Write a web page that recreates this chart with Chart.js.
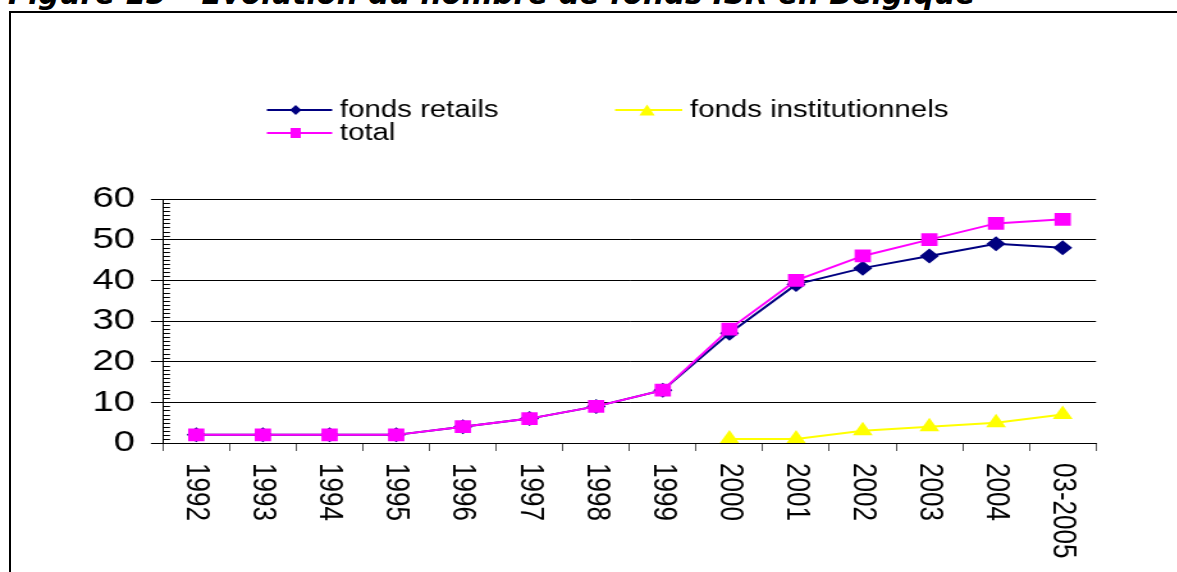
<!DOCTYPE html>
<html>
<head>
  <meta charset="utf-8">
  <title>Evolution du nombre de fonds ISR en Belgique</title>
  <script src="https://cdn.jsdelivr.net/npm/chart.js@4.4.0/dist/chart.umd.min.js"></script>
  <style>
    body { margin: 0; background: #fff; overflow: hidden; width: 1177px; height: 572px; position: relative; }
    #title { position: absolute; left: 8px; top: -18px; font: italic bold 29.5px "DejaVu Sans"; line-height: 24px; white-space: nowrap; color: #000; }
    #frame { position: absolute; left: 9px; top: 11px; width: 1300px; height: 700px; border-top: 2px solid #000; border-left: 2px solid #000; }
    /* the original picture is stretched sideways, so is the canvas */
    #myChart { position: absolute; left: 0; top: 0; transform: scaleX(1.28); transform-origin: 0 0; }
  </style>
</head>
<body>
  <div id="title">Figure 15 – Evolution du nombre de fonds ISR en Belgique</div>
  <div id="frame"></div>
  <canvas id="myChart" width="920" height="572"></canvas>
  <script type="text/javascript">
    var years = ["1992", "1993", "1994", "1995", "1996", "1997", "1998", "1999",
                 "2000", "2001", "2002", "2003", "2004", "03-2005"];
    var retails = [2, 2, 2, 2, 4, 6, 9, 13, 27, 39, 43, 46, 49, 48];
    var institutionnels = [null, null, null, null, null, null, null, null, 1, 1, 3, 4, 5, 7];
    var total = [2, 2, 2, 2, 4, 6, 9, 13, 28, 40, 46, 50, 54, 55];
    var yMin = 0, yMax = 60, yStep = 10;

    var NAVY = "#000080", YELLOW = "#ffff00", MAGENTA = "#ff00ff";

    Chart.defaults.font.family = "'Liberation Sans', Arial, sans-serif";
    Chart.defaults.color = "#000";

    function marker(ctx, style, x, y, w, h, color) {
      ctx.fillStyle = color;
      ctx.beginPath();
      if (style === "rectRot") {
        ctx.moveTo(x, y - h); ctx.lineTo(x + w, y); ctx.lineTo(x, y + h); ctx.lineTo(x - w, y);
      } else if (style === "rect") {
        ctx.rect(x - w, y - h, 2 * w, 2 * h);
      } else {
        ctx.moveTo(x, y - h); ctx.lineTo(x + w, y + h); ctx.lineTo(x - w, y + h);
      }
      ctx.closePath();
      ctx.fill();
    }

    // legend laid out like the excel one: two columns, "total" on a second row
    var legendPlugin = {
      id: "xlLegend",
      afterDraw: function(chart) {
        var ctx = chart.ctx;
        var items = [
          { text: "fonds retails", color: NAVY, style: "rectRot", x0: 208.5, x1: 259.5, mx: 231, y: 110, w: 4.5, h: 5 },
          { text: "fonds institutionnels", color: YELLOW, style: "triangle", x0: 480.5, x1: 533, mx: 505.5, y: 110, w: 6, h: 5.5 },
          { text: "total", color: MAGENTA, style: "rect", x0: 208.5, x1: 259.5, mx: 231, y: 133, w: 4, h: 5 }
        ];
        ctx.save();
        items.forEach(function(it) {
          ctx.strokeStyle = it.color;
          ctx.lineWidth = 2;
          ctx.beginPath();
          ctx.moveTo(it.x0, it.y);
          ctx.lineTo(it.x1, it.y);
          ctx.stroke();
          marker(ctx, it.style, it.mx, it.y, it.w, it.h, it.color);
          ctx.fillStyle = "#000";
          ctx.font = "23px 'Liberation Sans', Arial, sans-serif";
          ctx.textBaseline = "middle";
          ctx.textAlign = "left";
          ctx.fillText(it.text, it.x1 + 6, it.y + 1);
        });
        ctx.restore();
      }
    };

    // small ticks on the value axis, one per unit
    var minorTicks = {
      id: "minorTicks",
      afterDraw: function(chart) {
        var ctx = chart.ctx, y = chart.scales.y, left = chart.chartArea.left;
        ctx.save();
        ctx.strokeStyle = "#000";
        ctx.lineWidth = 1;
        ctx.beginPath();
        for (var v = yMin + 1; v < yMax; v++) {
          if (v % yStep === 0) continue;
          var py = Math.round(y.getPixelForValue(v)) + 0.5;
          ctx.moveTo(left, py);
          ctx.lineTo(left + 5.5, py);
        }
        ctx.stroke();
        ctx.restore();
      }
    };

    // x labels read from top to bottom: start them under the tick
    var flipLabels = {
      id: "flipLabels",
      beforeDraw: function(chart) {
        chart.scales.x.getLabelItems(chart.chartArea).forEach(function(it) {
          it.options.textAlign = "left";
        });
      }
    };

    var ctx = document.getElementById("myChart");

    new Chart(ctx, {
      type: "line",
      data: {
        labels: years,
        datasets: [
          {
            label: "fonds retails",
            data: retails,
            borderColor: NAVY,
            backgroundColor: NAVY,
            borderWidth: 2,
            pointStyle: "rectRot",
            pointRadius: 7.5,
            pointBorderWidth: 0,
            tension: 0,
            order: 2
          },
          {
            label: "fonds institutionnels",
            data: institutionnels,
            borderColor: YELLOW,
            backgroundColor: YELLOW,
            borderWidth: 2,
            pointStyle: "triangle",
            pointRadius: 9,
            pointBorderWidth: 0,
            tension: 0,
            order: 1
          },
          {
            label: "total",
            data: total,
            borderColor: MAGENTA,
            backgroundColor: MAGENTA,
            borderWidth: 2,
            pointStyle: "rect",
            pointRadius: 9,
            pointBorderWidth: 0,
            tension: 0,
            order: 0
          }
        ]
      },
      options: {
        responsive: false,
        animation: false,
        layout: { padding: { left: 0, right: 63.75, top: 199, bottom: 0 } },
        plugins: {
          legend: { display: false },
          tooltip: { enabled: false }
        },
        scales: {
          x: {
            offset: true,
            grid: { offset: true, drawOnChartArea: false, drawTicks: true, tickLength: 8, color: "#555" },
            border: { color: "#000", width: 1 },
            ticks: { minRotation: -90, maxRotation: -90, autoSkip: false, padding: 12, font: { size: 26 }, color: "#000" },
            afterFit: function(scale) { scale.height = 129; }
          },
          y: {
            min: yMin,
            max: yMax,
            grid: { color: "#000", lineWidth: 1, tickLength: 9.4 },
            border: { color: "#000", width: 1 },
            ticks: { stepSize: yStep, padding: 12.4, font: { size: 30 }, color: "#000" },
            afterFit: function(scale) { scale.width = 127.3; }
          }
        }
      },
      plugins: [legendPlugin, minorTicks, flipLabels]
    });
  </script>
</body>
</html>
